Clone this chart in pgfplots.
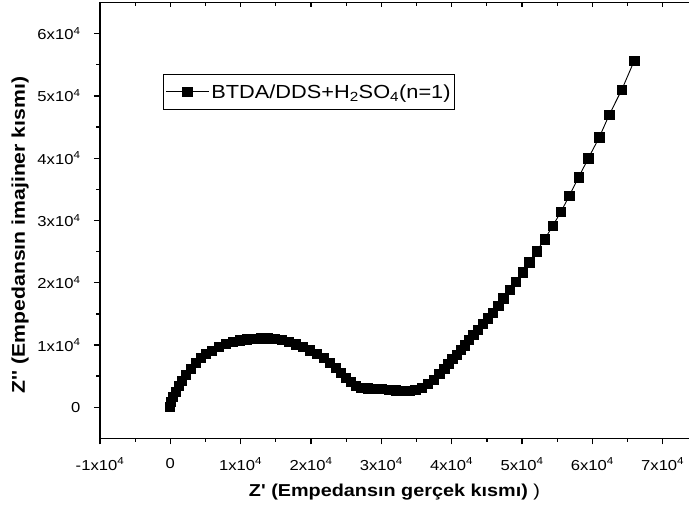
\documentclass[border=0pt]{standalone}
\usepackage{fontspec}
\setmainfont{Liberation Sans}[FakeStretch=1.15, Ligatures=TeXOff]
\usepackage{pgfplots}
\pgfplotsset{compat=1.18}
\begin{document}
\begin{tikzpicture}
\begin{axis}[
  scale only axis, width=589bp, height=435.9bp,
  xmin=-10000, xmax=73740, ymin=-5000, ymax=65000,
  axis x line*=bottom, axis y line*=left,
  axis line style={line width=1.6bp, black},
  xtick={-10000,0,10000,20000,30000,40000,50000,60000,70000},
  xticklabels={-1x10\textsuperscript{4},0,1x10\textsuperscript{4},2x10\textsuperscript{4},3x10\textsuperscript{4},4x10\textsuperscript{4},5x10\textsuperscript{4},6x10\textsuperscript{4},7x10\textsuperscript{4}},
  ytick={0,10000,20000,30000,40000,50000,60000},
  yticklabels={0,1x10\textsuperscript{4},2x10\textsuperscript{4},3x10\textsuperscript{4},4x10\textsuperscript{4},5x10\textsuperscript{4},6x10\textsuperscript{4}},
  minor x tick num=1, minor y tick num=1,
  tick align=outside,
  major tick length=6bp, minor tick length=3.5bp,
  every tick/.style={black, line width=1.3bp},
  ticklabel style={font=\fontsize{14.5}{17}\selectfont},
  xticklabel shift=10bp,
  yticklabel shift=10bp,
  scaled ticks=false,
  xlabel={\textbf{Z' (Empedansın gerçek kısmı)} )},
  xlabel style={font=\fontsize{17.3}{20}\selectfont, at={(axis description cs:0.5,-0.1344)}, anchor=base},
  ylabel={\textbf{Z'' (Empedansın imajiner kısmı)}},
  ylabel style={font=\fontsize{18.5}{21}\selectfont, at={(axis description cs:-0.1358,0.4666)}, anchor=center},
  legend style={at={(axis description cs:0.107,0.836)}, anchor=north west, draw=black, line width=0.7bp,
    font=\fontsize{19}{22}\selectfont, inner xsep=2bp, inner ysep=8bp},
  legend cell align=left,
  legend image code/.code={\draw[mark repeat=2,mark phase=2] plot coordinates {(0bp,0bp)(21.5bp,0bp)(43bp,0bp)};},
]
\addplot[black, line width=0.9bp, mark=square*, mark size=4.6bp, mark options={solid, line width=0.6bp}] coordinates {
(-30,130) (110,850) (400,1650) (750,2540) (1180,3420) (1680,4300) (2240,5260) (2880,6230)
(3590,7190) (4300,7990) (5090,8560) (5870,9120) (6860,9680) (7860,10160) (8850,10480)
(9840,10750) (10840,10930) (11830,11030) (12830,11080) (13820,11060) (14810,10960)
(15810,10770) (16800,10480) (17800,10110) (18790,9680) (19790,9150) (20780,8560)
(21780,7910) (22630,7190) (23480,6390) (24190,5590) (24900,4780) (25610,4060)
(26320,3500) (27100,3150) (28030,3050) (29020,2990) (30010,2940) (31010,2860)
(32000,2740) (33000,2650) (33990,2650) (34840,2810) (35700,3180) (36550,3740)
(37400,4460) (38250,5350) (38960,6230) (39530,7030) (40100,7750) (40670,8480)
(41240,9200) (41810,9950) (42440,10770) (43080,11600) (43720,12490) (44400,13370)
(45110,14290) (45820,15180) (46630,16310) (47340,17500) (48300,18830) (49150,20110)
(50090,21670) (51040,23270) (52070,25040) (53210,26970) (54350,29100) (55540,31400)
(56720,33960) (58040,36920) (59420,39970) (60980,43340) (62400,46970) (64200,51040)
(65950,55630)
};
\addlegendentry{BTDA/DDS+H\textsubscript{2}SO\textsubscript{4}(n=1)}
\end{axis}
\begin{axis}[
  scale only axis, width=589bp, height=435.9bp,
  xmin=-10000, xmax=73740, ymin=-5000, ymax=65000,
  axis x line*=top, axis y line=none,
  axis line style={line width=1.6bp, black},
  xtick={-10000,0,10000,20000,30000,40000,50000,60000,70000},
  xticklabels={},
  scaled ticks=false,
  minor x tick num=1,
  tick align=inside,
  major tick length=4.5bp, minor tick length=3.5bp,
  every tick/.style={black, line width=1.1bp},
]
\end{axis}
\pgfresetboundingbox
\path[use as bounding box] (-100bp,-76.6bp) rectangle (589bp,438.4bp);
\end{tikzpicture}
\end{document}
